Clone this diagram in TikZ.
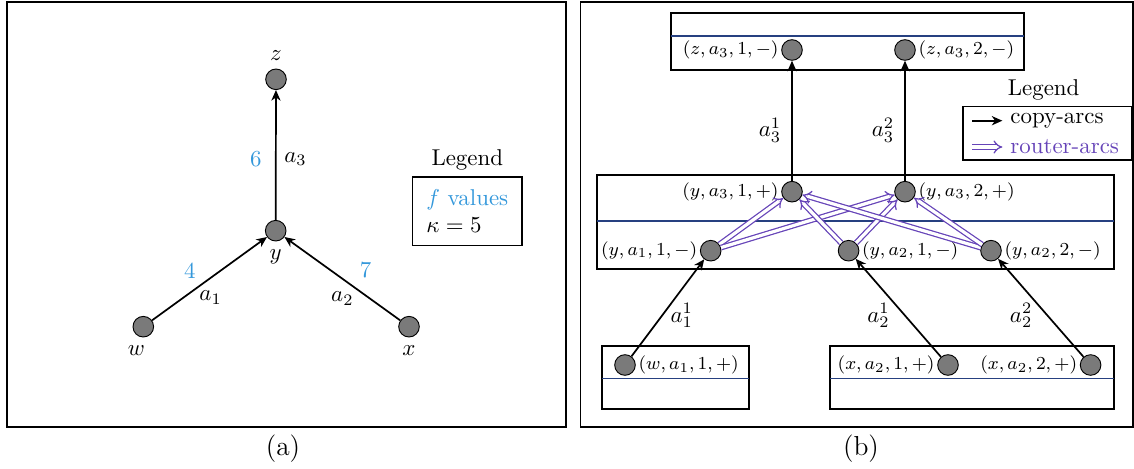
\documentclass[tikz,border=0pt]{standalone}
\usetikzlibrary{arrows.meta,positioning}
\definecolor{fval}{RGB}{52,152,219}
\definecolor{routerc}{RGB}{102,68,184}
\definecolor{layerline}{RGB}{38,64,128}
\newcommand{\lbsize}{\fontsize{8.5}{10}\selectfont}

\begin{document}
\begin{tikzpicture}[x=0.4367pt, y=-0.4367pt, >={Stealth[length=4.6pt, width=4pt, inset=1.4pt]},
    vert/.style={circle, draw, fill=black!52, minimum size=9pt, inner sep=0pt},
    copyarc/.style={->, line width=0.75pt},
    routerarc/.style={-{Implies}, draw=routerc, double, double distance=1.4pt, line width=0.55pt},
    lab/.style={font=\lbsize, inner sep=1pt},
    frame/.style={line width=0.7pt},
    layer/.style={line width=0.7pt},
    sepline/.style={draw=layerline, line width=0.6pt}]
    \useasboundingbox (0,0) rectangle (1134,469);

    % (a) original graph
    \draw[frame] (7.3,1.7) rectangle (565.7,426.7);
    \node[vert, label=above:$z$] (z) at (276,79.3) {};
    \node[vert, label=below:$y$] (y) at (275.7,230.7) {};
    \node[vert, label={[xshift=-3pt]below:$w$}] (w) at (143.3,326.7) {};
    \node[vert, label=below:$x$] (x) at (409,326.7) {};

    \draw[copyarc] (y) -- node[pos=0.47, left=2.5pt, text=fval] {6} node[pos=0.47, right] {$a_3$} (z);
    \draw[copyarc] (w) -- node[pos=0.33, above=2.7pt, text=fval] {4} node[pos=0.51, below=2pt] {$a_1$} (y);
    \draw[copyarc] (x) -- node[pos=0.30, above=4pt, text=fval] {7} node[pos=0.5, below=2pt] {$a_2$} (y);

    % legend of (a)
    \node[draw, line width=0.7pt, align=left, inner xsep=6pt, inner ysep=5.5pt] (legA) at (467.3,211.2)
        {\textcolor{fval}{$f$ values}\\$\kappa=5$};
    \node[above=-1pt of legA] (legAt) {Legend};

    % (b) expanded graph
    \draw[frame] (580.3,1.7) rectangle (1132.8,426.7);

    % layers
    \draw[layer] (670.8,13.3) rectangle (1024,70);
    \draw[sepline] (670.8,36) -- (1024,36);
    \draw[layer] (597,175) rectangle (1114,269.3);
    \draw[sepline] (597,221) -- (1114,221);
    \draw[layer] (602,345.7) rectangle (749,409);
    \draw[sepline] (602,378.7) -- (749,378.7);
    \draw[layer] (830,345.7) rectangle (1114,409);
    \draw[sepline] (830,378.7) -- (1114,378.7);

    % copies
    \node[vert, label={[lab]left:$(z,a_3,1,-)$}] (z31m) at (792,50) {};
    \node[vert, label={[lab]right:$(z,a_3,2,-)$}] (z32m) at (905,50) {};
    \node[vert, label={[lab]left:$(y,a_3,1,+)$}] (y31p) at (792,191.7) {};
    \node[vert, label={[lab]right:$(y,a_3,2,+)$}] (y32p) at (905,191.7) {};
    \node[vert, label={[lab]left:$(y,a_1,1,-)$}] (y11m) at (710.7,250.7) {};
    \node[vert, label={[lab]right:$(y,a_2,1,-)$}] (y21m) at (848.6,250.7) {};
    \node[vert, label={[lab]right:$(y,a_2,2,-)$}] (y22m) at (991,250.7) {};
    \node[vert, label={[lab]right:$(w,a_1,1,+)$}] (w11p) at (625,365) {};
    \node[vert, label={[lab]left:$(x,a_2,1,+)$}] (x21p) at (948,365) {};
    \node[vert, label={[lab]left:$(x,a_2,2,+)$}] (x22p) at (1090.6,365) {};

    % copy-arcs
    \draw[copyarc] (w11p) -- node[pos=0.42, right] {$a_1^1$} (y11m);
    \draw[copyarc] (x21p) -- node[pos=0.42, left=3pt] {$a_2^1$} (y21m);
    \draw[copyarc] (x22p) -- node[pos=0.42, left=3pt] {$a_2^2$} (y22m);
    \draw[copyarc] (y31p) -- node[pos=0.42, left=1pt] {$a_3^1$} (z31m);
    \draw[copyarc] (y32p) -- node[pos=0.42, left=1pt] {$a_3^2$} (z32m);

    % router-arcs
    \foreach \s in {y11m,y21m,y22m}
        \foreach \t in {y31p,y32p}
            \draw[routerarc] (\s) -- (\t);

    % legend of (b)
    \node[draw, line width=0.7pt, minimum width=73.7pt, minimum height=23.3pt] (legB) at (1047.1,133.35) {};
    \node[above=-1pt of legB, xshift=-1.5pt] (legBt) {Legend};
    \node[anchor=west] (copytxt) at (1002.4,120.7) {copy-arcs};
    \node[anchor=west, text=routerc] (routertxt) at (1002.4,147) {router-arcs};
    \coordinate (lc) at (972,120.7);
    \coordinate (lr) at (972,147);
    \draw[copyarc] (lc) -- (copytxt.west);
    \draw[routerarc] (lr) -- (routertxt.west);

    % captions
    \node[font=\large] (capA) at (283,449) {(a)};
    \node[font=\large] (capB) at (861,449) {(b)};
\end{tikzpicture}
\end{document}
